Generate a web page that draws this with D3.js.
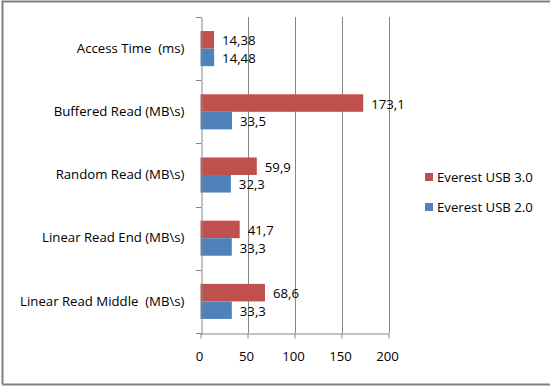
<!DOCTYPE html>
<html>
<head>
<meta charset="utf-8">
<script src="https://cdn.jsdelivr.net/npm/d3@7"></script>
<style>
  body { margin: 0; background: #fff; }
  svg text { font-family: "Open Sans", "Noto Sans", sans-serif; fill: #000; white-space: pre; }
</style>
</head>
<body>
<div id="chart"></div>
<script>
// categories (top to bottom) and series values
const categories = ['Access Time  (ms)', 'Buffered Read (MB\\s)', 'Random Read (MB\\s)', 'Linear Read End (MB\\s)', 'Linear Read Middle  (MB\\s)'];
const seriesNames = ['Everest USB 3.0', 'Everest USB 2.0'];
const usb30 = [14.38, 173.1, 59.9, 41.7, 68.6];
const usb20 = [14.48, 33.5, 32.3, 33.3, 33.3];
const labels30 = ['14,38', '173,1', '59,9', '41,7', '68,6'];
const labels20 = ['14,48', '33,5', '32,3', '33,3', '33,3'];
const xTicks = [0, 50, 100, 150, 200];

const width = 550;
const height = 386;
const colors = ['#C0504D', '#4F81BD'];
const margin = { top: 17, left: 200.5, right: 161.5, bottom: 53 };
const fontSize = 13.2;

const svg = d3.select('#chart').append('svg')
  .attr('width', width)
  .attr('height', height);

// outer frame (no right edge)
svg.append('path')
  .attr('d', `M 2.5 384.5 L 2.5 1.5 L ${width} 1.5 M 2.5 384.5 L ${width} 384.5`)
  .attr('fill', 'none')
  .attr('stroke', '#808080')
  .attr('stroke-width', 2);

const x = d3.scaleLinear()
  .domain([0, 200])
  .range([margin.left, width - margin.right]);

const y = d3.scaleBand()
  .domain(categories)
  .range([margin.top, height - margin.bottom])
  .paddingInner(0.445)
  .paddingOuter(0.2225);

const sub = d3.scaleBand()
  .domain(seriesNames)
  .range([0, y.bandwidth()]);

const plotBottom = height - margin.bottom;

// gridlines
svg.append('g')
  .selectAll('line')
  .data(xTicks.slice(1))
  .join('line')
  .attr('x1', d => Math.round(x(d)) + 0.5)
  .attr('x2', d => Math.round(x(d)) + 0.5)
  .attr('y1', margin.top)
  .attr('y2', plotBottom)
  .attr('stroke', '#868686');

// bars
const groups = svg.append('g')
  .selectAll('g')
  .data(categories)
  .join('g')
  .attr('transform', d => `translate(0,${y(d)})`);

const rows = categories.map((c, i) => [
  { key: seriesNames[0], v: usb30[i], label: labels30[i], color: colors[0] },
  { key: seriesNames[1], v: usb20[i], label: labels20[i], color: colors[1] },
]);

groups.selectAll('rect')
  .data((d, i) => rows[i])
  .join('rect')
  .attr('x', x(0))
  .attr('y', d => sub(d.key))
  .attr('width', d => x(d.v) - x(0))
  .attr('height', sub.bandwidth())
  .attr('fill', d => d.color);

groups.selectAll('text')
  .data((d, i) => rows[i])
  .join('text')
  .attr('x', d => x(d.v) + 8)
  .attr('y', d => sub(d.key) + sub.bandwidth() / 2 + 1)
  .attr('dy', '0.35em')
  .attr('font-size', fontSize)
  .text(d => d.label);

// y axis
const yAxis = svg.append('g')
  .attr('transform', `translate(${Math.round(x(0)) + 0.5},0)`)
  .call(d3.axisLeft(y).tickSize(0).tickPadding(17));
yAxis.select('.domain').attr('stroke', '#868686');
yAxis.selectAll('text').attr('font-size', fontSize).attr('fill', '#000');

// category separator ticks
svg.append('g')
  .selectAll('line')
  .data(d3.range(categories.length + 1))
  .join('line')
  .attr('x1', Math.round(x(0)) - 5)
  .attr('x2', Math.round(x(0)) + 0.5)
  .attr('y1', i => Math.round(margin.top + i * y.step()) + 0.5)
  .attr('y2', i => Math.round(margin.top + i * y.step()) + 0.5)
  .attr('stroke', '#868686');

// x axis
const xAxis = svg.append('g')
  .attr('transform', `translate(0,${Math.round(plotBottom) + 0.5})`)
  .call(d3.axisBottom(x).tickValues(xTicks).tickSize(5).tickPadding(13).tickSizeOuter(0));
xAxis.select('.domain').attr('stroke', '#868686');
xAxis.selectAll('.tick line').attr('stroke', '#868686');
xAxis.selectAll('text').attr('font-size', fontSize).attr('fill', '#000').attr('dx', -1.5);

// legend
const legend = svg.append('g')
  .selectAll('g')
  .data(seriesNames)
  .join('g')
  .attr('transform', (d, i) => `translate(425,${177 + i * 30})`);

legend.append('rect')
  .attr('x', 0)
  .attr('y', -4)
  .attr('width', 8)
  .attr('height', 8)
  .attr('fill', (d, i) => colors[i]);

legend.append('text')
  .attr('x', 12)
  .attr('y', 0)
  .attr('dy', '0.35em')
  .attr('font-size', fontSize)
  .text(d => d);
</script>
</body>
</html>
